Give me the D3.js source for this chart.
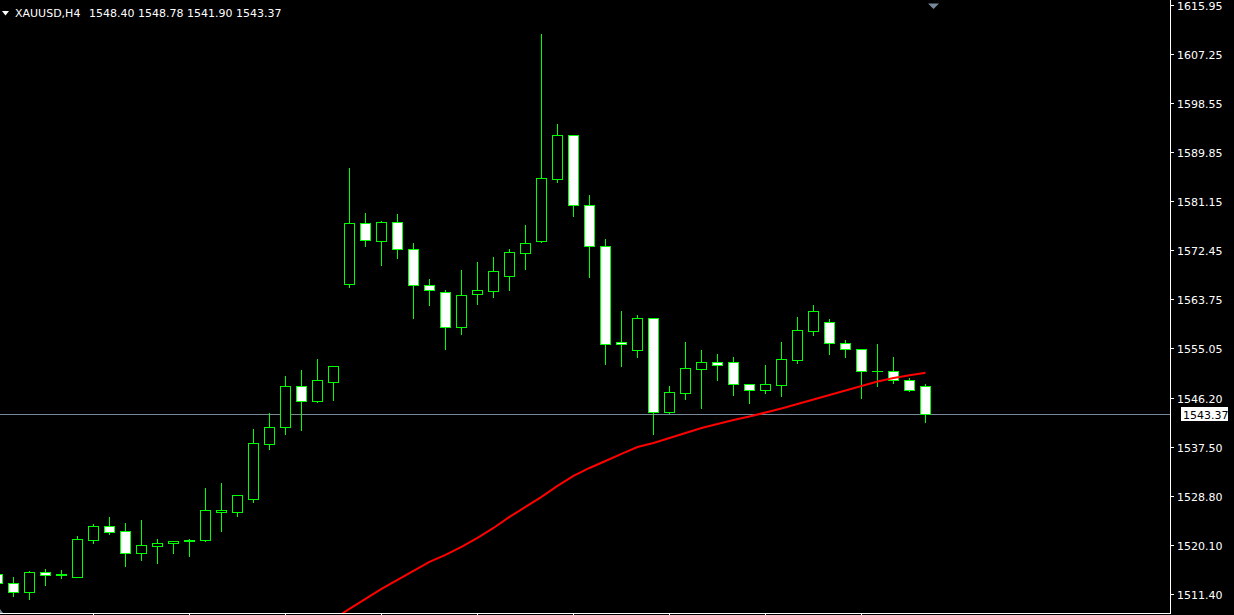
<!DOCTYPE html>
<html>
<head>
<meta charset="utf-8">
<script src="https://cdn.jsdelivr.net/npm/d3@7"></script>
<style>
  html, body { margin: 0; padding: 0; background: #000; }
  svg { display: block; }
  text { font-family: "DejaVu Sans", sans-serif; font-size: 11px; }
</style>
</head>
<body>
<svg id="chart" width="1234" height="615"></svg>
<script>
// ---- data ----
const symbol = "XAUUSD,H4";
const firstIndex = -1; // first (partly visible) candle index
const opens  = [1514.87,1513.31,1511.82,1515.31,1514.80,1514.48,1521.05,1523.42,1522.54,1518.63,1519.87,1520.41,1520.85,1521.05,1526.00,1526.02,1528.32,1538.09,1541.10,1548.27,1545.72,1549.09,1566.38,1577.20,1574.01,1577.38,1572.59,1566.20,1564.96,1558.74,1564.60,1565.19,1567.90,1571.99,1574.01,1585.12,1592.82,1580.40,1573.12,1556.08,1554.66,1560.34,1543.76,1547.14,1551.40,1552.53,1552.53,1548.63,1547.56,1548.56,1553.00,1558.14,1559.63,1555.91,1554.84,1550.93,1550.93,1549.34,1548.40];
const highs  = [1515.30,1514.60,1515.67,1516.02,1515.85,1521.83,1523.96,1525.25,1524.19,1524.72,1521.29,1520.99,1521.29,1530.40,1531.29,1528.95,1540.87,1543.71,1550.28,1551.34,1553.30,1551.90,1587.20,1579.21,1577.79,1579.03,1573.88,1567.50,1565.49,1569.09,1570.51,1571.40,1572.82,1577.08,1610.98,1595.01,1593.05,1582.40,1574.59,1561.82,1561.11,1560.40,1548.50,1556.31,1554.89,1554.18,1553.65,1548.81,1552.23,1556.31,1560.75,1562.88,1560.40,1556.67,1554.90,1555.96,1553.65,1549.87,1548.78];
const lows   = [1512.60,1511.05,1510.57,1513.01,1514.30,1514.40,1520.51,1522.06,1516.38,1517.44,1516.96,1518.74,1518.21,1520.82,1522.59,1525.31,1527.74,1537.14,1539.86,1540.52,1545.55,1545.84,1565.95,1573.17,1569.86,1571.10,1560.45,1562.76,1554.89,1557.61,1562.93,1564.12,1565.37,1569.15,1573.90,1584.59,1578.55,1567.73,1552.28,1551.93,1553.53,1539.86,1543.59,1546.07,1544.48,1549.45,1546.78,1545.36,1547.14,1546.60,1552.46,1557.43,1554.06,1553.53,1546.25,1548.33,1548.91,1547.50,1541.90];
const closes = [1513.27,1511.82,1515.31,1514.83,1514.95,1521.12,1523.42,1522.47,1518.63,1520.05,1520.41,1520.76,1521.05,1526.26,1526.30,1528.93,1538.16,1541.00,1548.27,1545.72,1549.34,1551.82,1577.20,1574.19,1577.38,1572.59,1566.20,1565.31,1558.74,1564.42,1565.31,1568.68,1572.06,1573.65,1585.19,1592.82,1580.40,1573.12,1555.73,1555.73,1560.34,1543.76,1547.21,1551.47,1552.53,1552.00,1548.63,1547.56,1548.63,1553.07,1558.21,1561.58,1555.91,1554.84,1550.93,1550.99,1549.34,1547.56,1543.37];

// moving average (red line), starting at candle index 20
const maStart = 20;
const maValues = [1506.97,1508.75,1510.52,1512.30,1513.89,1515.49,1517.09,1518.33,1519.75,1521.35,1523.12,1525.08,1526.85,1528.63,1530.58,1532.35,1533.77,1535.01,1536.26,1537.50,1538.21,1539.10,1539.98,1540.87,1541.58,1542.29,1542.91,1543.62,1544.33,1545.13,1545.93,1546.73,1547.53,1548.33,1549.12,1549.75,1550.23,1550.69];

const priceTickLabels = ["1615.95","1607.25","1598.55","1589.85","1581.15","1572.45","1563.75","1555.05","1546.20","1537.50","1528.80","1520.10","1511.40"];
const timeTickIndices = [5,11,17,23,29,35,41,47,53];
const currentPrice = 1543.37;

// ---- build ----
const candles = opens.map((o, k) => ({
  i: firstIndex + k, o, h: highs[k], l: lows[k], c: closes[k]
}));
const last = candles[candles.length - 1];

const W = 1234, H = 615;
const axisX = 1170.5, bottomY = 613.5;
const svg = d3.select("#chart");
svg.append("rect").attr("width", W).attr("height", H).attr("fill", "#000");

const x = d3.scaleLinear().domain([0, 1]).range([13.5, 29.5]);
const y = d3.scaleLinear().domain([1511.40, 1615.95]).range([594, 5]);
const py = v => Math.round(y(v)) + 0.5;

svg.append("defs").append("clipPath").attr("id", "plot")
  .append("rect").attr("x", 0).attr("y", 0).attr("width", 1170).attr("height", 613);

const plot = svg.append("g").attr("clip-path", "url(#plot)");

// current price line
plot.append("line")
  .attr("x1", 0).attr("x2", 1171)
  .attr("y1", py(currentPrice)).attr("y2", py(currentPrice))
  .attr("stroke", "#778899").attr("stroke-width", 1);

// wicks
plot.selectAll("line.wick").data(candles).join("line")
  .attr("class", "wick")
  .attr("x1", d => x(d.i)).attr("x2", d => x(d.i))
  .attr("y1", d => py(d.h)).attr("y2", d => py(d.l))
  .attr("stroke", "#00ff00").attr("stroke-width", 1)
  .attr("shape-rendering", "crispEdges");

// bodies
candles.forEach(d => {
  const t = py(Math.max(d.o, d.c)), b = py(Math.min(d.o, d.c));
  if (b - t < 1) {
    plot.append("line")
      .attr("x1", x(d.i) - 5.5).attr("x2", x(d.i) + 5.5)
      .attr("y1", t).attr("y2", t)
      .attr("stroke", "#00ff00").attr("stroke-width", 1)
      .attr("shape-rendering", "crispEdges");
  } else {
    plot.append("rect")
      .attr("x", x(d.i) - 5).attr("width", 10)
      .attr("y", t).attr("height", b - t)
      .attr("fill", d.c > d.o ? "#000" : "#fff")
      .attr("stroke", "#00ff00").attr("stroke-width", 1)
      .attr("shape-rendering", "crispEdges");
  }
});

// moving average
const maData = maValues.map((v, k) => ({ i: maStart + k, v }));
plot.append("path").datum(maData)
  .attr("fill", "none").attr("stroke", "#ff0000").attr("stroke-width", 2)
  .attr("d", d3.line().x(d => x(d.i)).y(d => y(d.v)));

// axes frame
svg.append("line").attr("x1", axisX).attr("x2", axisX).attr("y1", 0).attr("y2", bottomY + 0.5)
  .attr("stroke", "#fff").attr("stroke-width", 1);
svg.append("line").attr("x1", 0).attr("x2", axisX).attr("y1", bottomY).attr("y2", bottomY)
  .attr("stroke", "#fff").attr("stroke-width", 1);

// price axis ticks and labels
const ya = svg.append("g");
priceTickLabels.forEach(s => {
  const yy = py(+s);
  ya.append("line").attr("x1", 1171).attr("x2", 1174).attr("y1", yy).attr("y2", yy)
    .attr("stroke", "#fff").attr("stroke-width", 1);
  ya.append("text").attr("x", 1177).attr("y", yy + 4.5)
    .attr("fill", "#fff").text(s);
});

// time axis ticks
timeTickIndices.forEach(i => {
  svg.append("line").attr("x1", x(i)).attr("x2", x(i)).attr("y1", 614).attr("y2", 615)
    .attr("stroke", "#fff").attr("stroke-width", 1);
});

// current price label
const cpy = py(currentPrice);
svg.append("rect").attr("x", 1181).attr("y", cpy - 7.5).attr("width", 47).attr("height", 14)
  .attr("fill", "#fff");
svg.append("text").attr("x", 1183).attr("y", cpy + 4.5).attr("fill", "#000")
  .text(currentPrice.toFixed(2));

// header
svg.append("path").attr("d", "M2,11 L9,11 L5.5,15.5 Z").attr("fill", "#fff");
svg.append("text").attr("x", 15).attr("y", 17).attr("fill", "#fff").text(symbol);
svg.append("text").attr("x", 89).attr("y", 17).attr("fill", "#fff")
  .text([last.o, last.h, last.l, last.c].map(v => v.toFixed(2)).join(" "));

// chart shift marker
svg.append("path").attr("d", "M928,3.5 L939,3.5 L933.5,9 Z").attr("fill", "#778899");
// bottom-left marker
svg.append("path").attr("d", "M0,609 L0,613 L3,613 Z").attr("fill", "#778899");
</script>
</body>
</html>
